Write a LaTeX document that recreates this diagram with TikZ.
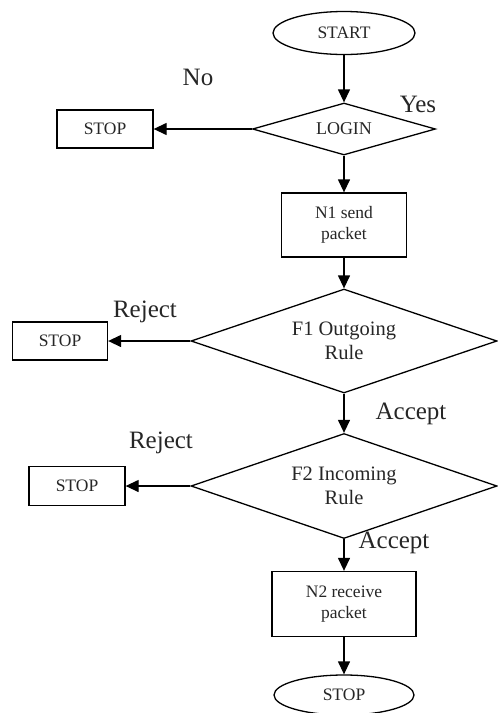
\documentclass[tikz,border=0pt]{standalone}
\usepackage{fontspec}
\setmainfont{Liberation Serif}
\usetikzlibrary{shapes.geometric,arrows.meta}

\begin{document}
\begin{tikzpicture}
  [x=1pt,y=-1pt,line width=1.3pt,>={Triangle[length=13pt,width=12pt]},
   every node/.style={draw,inner sep=0pt,text=black!85,align=center},
   term/.style={ellipse,minimum width=142pt,minimum height=43pt,font=\fontsize{17.5}{19}\selectfont},
   box/.style={rectangle,font=\fontsize{17.5}{21}\selectfont},
   test/.style={diamond,aspect=3,font=\fontsize{20.5}{24}\selectfont},
   lbl/.style={draw=none,font=\fontsize{25}{27}\selectfont}]
  \useasboundingbox (0,0) rectangle (498,713);

  \node[term] (start) at (344,33) {START};
  \node[test,aspect=3.5,minimum width=183pt,minimum height=52pt,font=\fontsize{18}{20}\selectfont] (login) at (344,129) {LOGIN};
  \node[box,minimum width=96pt,minimum height=38pt] (stop1) at (105,129) {STOP};
  \node[box,minimum width=125pt,minimum height=64pt] (n1) at (344,225) {N1 send\\packet};
  \node[test,minimum width=306pt,minimum height=104pt] (f1) at (344,341) {F1 Outgoing\\Rule};
  \node[box,minimum width=95pt,minimum height=38pt] (stop2) at (60,341) {STOP};
  \node[test,minimum width=306pt,minimum height=105pt] (f2) at (344,486) {F2 Incoming\\Rule};
  \node[box,minimum width=96pt,minimum height=39pt] (stop3) at (77,486) {STOP};
  \node[box,minimum width=144pt,minimum height=65pt] (n2) at (344,604) {N2 receive\\packet};
  \node[term,minimum width=140pt,minimum height=40pt] (stop) at (344,695) {STOP};

  \node[lbl] (no) at (198,77) {No};
  \node[lbl] (yes) at (418,104) {Yes};
  \node[lbl] (rej1) at (145,312) {Reject};
  \node[lbl] (acc1) at (411,414) {Accept};
  \node[lbl] (rej2) at (161,443) {Reject};
  \node[lbl] (acc2) at (394,543) {Accept};

  \foreach \from/\to in {start/login,login/n1,n1/f1,f1/f2,f2/n2,n2/stop,login/stop1,f1/stop2,f2/stop3}
    \draw[->] (\from) -- (\to);
\end{tikzpicture}
\end{document}
